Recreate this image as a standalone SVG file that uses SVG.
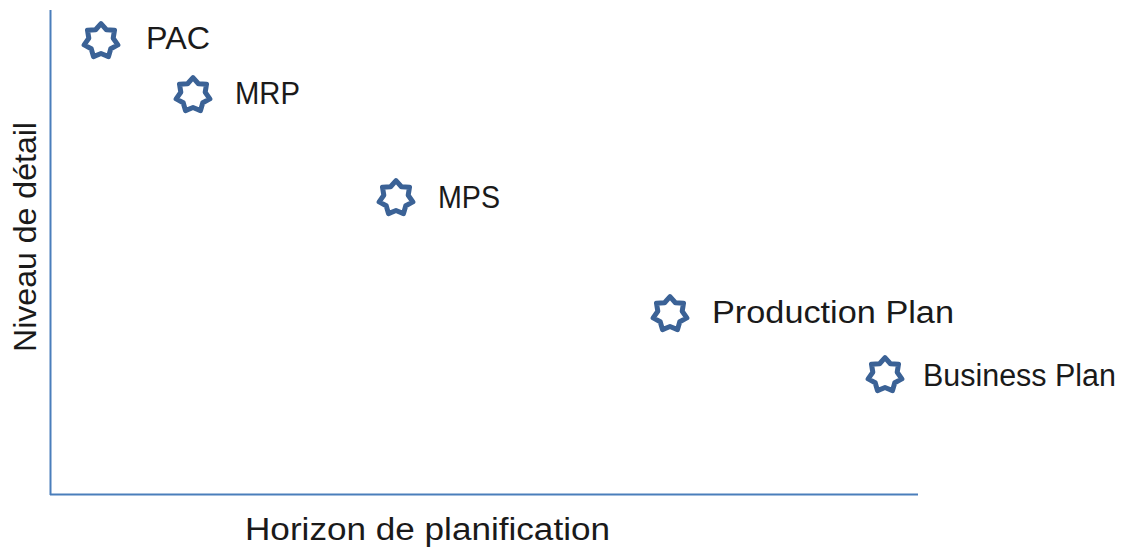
<svg xmlns="http://www.w3.org/2000/svg" width="1127" height="547" viewBox="0 0 1127 547">
<style>
.lbl{font-family:"Liberation Sans",Arial,sans-serif;font-size:31px;fill:#1a1a1a}
.axis{stroke:#4A7EBB;stroke-width:2;fill:none}
.star{fill:none;stroke:#3B6296;stroke-width:5;stroke-linejoin:round}
</style>
<defs>
<polygon id="star7" class="star" points="0,-17.3 5.42,-11.26 13.52,-10.79 12.19,-2.78 16.87,3.85 9.77,7.79 7.51,15.59 0,12.5 -7.51,15.59 -9.77,7.79 -16.87,3.85 -12.19,-2.78 -13.52,-10.79 -5.42,-11.26"/>
</defs>
<rect width="1127" height="547" fill="#ffffff"/>
<g id="axes">
<line class="axis" x1="50.5" y1="10" x2="50.5" y2="495"/>
<line class="axis" x1="50" y1="494.5" x2="918" y2="494.5"/>
<text class="lbl" transform="translate(36,352) rotate(-90)" textLength="230" lengthAdjust="spacingAndGlyphs">Niveau de détail</text>
<text class="lbl" x="245" y="540" textLength="365" lengthAdjust="spacingAndGlyphs">Horizon de planification</text>
</g>
<g id="pac"><use href="#star7" x="101" y="41"/><text class="lbl" x="146" y="49" textLength="64" lengthAdjust="spacingAndGlyphs">PAC</text></g>
<g id="mrp"><use href="#star7" x="193" y="95"/><text class="lbl" x="235" y="104" textLength="65" lengthAdjust="spacingAndGlyphs">MRP</text></g>
<g id="mps"><use href="#star7" x="396" y="198"/><text class="lbl" x="438" y="208" textLength="62" lengthAdjust="spacingAndGlyphs">MPS</text></g>
<g id="production-plan"><use href="#star7" x="670" y="314"/><text class="lbl" x="712" y="323" textLength="242" lengthAdjust="spacingAndGlyphs">Production Plan</text></g>
<g id="business-plan"><use href="#star7" x="885" y="375"/><text class="lbl" x="923" y="386" textLength="193" lengthAdjust="spacingAndGlyphs">Business Plan</text></g>
</svg>
